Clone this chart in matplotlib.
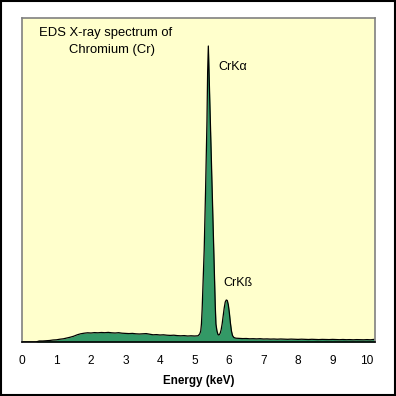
import matplotlib
matplotlib.use("Agg")
import matplotlib.pyplot as plt
from matplotlib.patches import Rectangle

plt.rcParams['font.family'] = ['Liberation Sans', 'DejaVu Sans']

# Energy (keV) and counts
energy = [0.0, 0.1, 0.2, 0.3, 0.4, 0.5, 0.6, 0.7, 0.8, 0.9,
          1.0, 1.1, 1.2, 1.3, 1.4, 1.5, 1.6, 1.7, 1.8, 1.9,
          2.0, 2.1, 2.2, 2.3, 2.4, 2.5, 2.6, 2.7, 2.8, 2.9,
          3.0, 3.1, 3.2, 3.3, 3.4, 3.5, 3.6, 3.7, 3.8, 3.9,
          4.0, 4.1, 4.2, 4.3, 4.4, 4.5, 4.6, 4.7, 4.8, 4.9,
          5.0, 5.1, 5.15, 5.18, 5.20, 5.22, 5.24, 5.26, 5.28, 5.30,
          5.32, 5.34, 5.36, 5.38, 5.40, 5.42, 5.44, 5.46, 5.48, 5.50,
          5.52, 5.54, 5.56, 5.58, 5.60, 5.62, 5.65, 5.68, 5.71, 5.74,
          5.77, 5.80, 5.83, 5.86, 5.89, 5.92, 5.95, 5.98, 6.01, 6.04,
          6.07, 6.10, 6.14, 6.2, 6.3, 6.4, 6.5, 6.6, 6.7, 6.8,
          6.9, 7.0, 7.1, 7.2, 7.3, 7.4, 7.5, 7.6, 7.7, 7.8,
          7.9, 8.0, 8.1, 8.2, 8.3, 8.4, 8.5, 8.6, 8.7, 8.8,
          8.9, 9.0, 9.1, 9.2, 9.3, 9.4, 9.5, 9.6, 9.7, 9.8,
          9.9, 10.0, 10.1, 10.2]
counts = [0, 0, 0, 0, 0, 10, 10, 12, 15, 20,
          22, 28, 32, 40, 48, 58, 72, 82, 88, 92,
          90, 94, 92, 95, 93, 96, 92, 90, 93, 88,
          86, 84, 86, 82, 80, 82, 84, 78, 72, 74,
          70, 72, 68, 66, 68, 64, 62, 64, 60, 62,
          60, 62, 80, 110, 180, 320, 520, 720, 920, 1200,
          1520, 1850, 2200, 2700, 2960, 2700, 2420, 2150, 1900, 1620,
          1380, 1120, 870, 620, 370, 180, 110, 75, 70, 85,
          120, 180, 260, 340, 400, 420, 415, 370, 290, 190,
          110, 65, 45, 38, 36, 34, 35, 32, 33, 31,
          33, 30, 31, 29, 30, 28, 30, 29, 27, 29,
          28, 26, 28, 27, 25, 27, 26, 24, 26, 25,
          24, 26, 24, 23, 25, 23, 24, 22, 24, 23,
          22, 24, 22, 26]

xticks = [0, 1, 2, 3, 4, 5, 6, 7, 8, 9, 10]
xticklabels = ['0', '1', '2', '3', '4', '5', '6', '7', '8', '9', '10']

W = H = 396
fig = plt.figure(figsize=(W / 100, H / 100), dpi=100, facecolor='white')
ax = fig.add_axes([22 / W, (W - 342) / H, (375 - 22) / W, (342 - 18) / H])
ax.set_facecolor('#FFFFCC')

ax.fill_between(energy, counts, 0, color='#339966', linewidth=0)
ax.plot(energy, counts, color='black', linewidth=0.9)

ax.set_xlim(0, 10.23)
ax.set_ylim(0, 3240)
ax.set_yticks([])
ax.set_xticks(xticks)
ax.set_xticklabels(xticklabels, fontsize=8.6)
ax.tick_params(axis='x', length=0, pad=9)
ax.set_xlabel('Energy (keV)', fontsize=8.4, fontweight='bold', labelpad=6)

for s in ['left', 'top', 'right']:
    ax.spines[s].set_color('#808080')
    ax.spines[s].set_linewidth(1.2)
ax.spines['bottom'].set_color('black')
ax.spines['bottom'].set_linewidth(1.2)

ax.text(0.048, 0.955, 'EDS X-ray spectrum of', transform=ax.transAxes,
        fontsize=9.4, va='center', ha='left')
ax.text(0.133, 0.902, 'Chromium (Cr)', transform=ax.transAxes,
        fontsize=9.4, va='center', ha='left')
ax.text(5.68, 2750, 'CrKα', fontsize=9.0, va='center', ha='left')
ax.text(5.83, 590, 'CrKß', fontsize=9.0, va='center', ha='left')

fig.patches.append(Rectangle((1 / W, 1 / H), 1 - 2 / W, 1 - 2 / H,
                             transform=fig.transFigure, fill=False,
                             edgecolor='black', linewidth=1.5))

fig.savefig('out.png', dpi=100, facecolor='white')
